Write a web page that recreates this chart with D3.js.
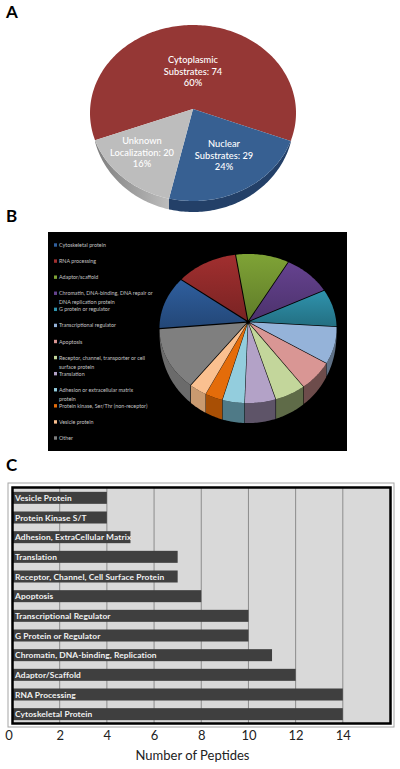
<!DOCTYPE html>
<html>
<head>
<meta charset="utf-8">
<script src="https://cdn.jsdelivr.net/npm/d3@7"></script>
<style>
  html, body { margin: 0; padding: 0; background: #fff; }
  svg { display: block; }
  text { font-family: Lato, "Open Sans", sans-serif; }
</style>
</head>
<body>
<svg id="chart" width="400" height="769"></svg>
<script>
// panel A
const locNames = ['Cytoplasmic', 'Nuclear', 'Unknown'];
const locValues = [74, 29, 20];
const locLabels = [
  ['Cytoplasmic', 'Substrates: 74', '60%'],
  ['Nuclear', 'Substrates: 29', '24%'],
  ['Unknown', 'Localization: 20', '16%']
];
const locTop = ['#953735', '#376092', '#bdbdbd'];
const locSide = ['#6e2826', '#234068', '#8f8f8f'];

// panel B
const classNames = [
  'Cytoskeletal protein', 'RNA processing', 'Adaptor/scaffold',
  'Chromatin, DNA-binding, DNA repair or|DNA replication protein',
  'G protein or regulator', 'Transcriptional regulator', 'Apoptosis',
  'Receptor, channel, transporter or cell|surface protein', 'Translation',
  'Adhesion or extracellular matrix|protein', 'Protein kinase, Ser/Thr (non-receptor)',
  'Vesicle protein', 'Other'
];
const classValues = [14, 14, 12, 11, 10, 10, 8, 7, 7, 5, 4, 4, 17];
const classTop = ['#2f5f9e', '#a12f2f', '#7fa336', '#65428f', '#2f93ad', '#95b3d9', '#d99694',
  '#c3d69b', '#b3a2c7', '#93cddd', '#e46c0a', '#fac090', '#7f7f7f'];
const classSide = ['#1d3f6b', '#6e2020', '#55701f', '#43305f', '#1c6478', '#5f7186', '#6d4c4b',
  '#5f6b48', '#5e5468', '#4f7a87', '#a84f05', '#c99a70', '#6b6b6b'];

// panel C
const barNames = ['Vesicle Protein', 'Protein Kinase S/T', 'Adhesion, ExtraCellular Matrix', 'Translation',
  'Receptor, Channel, Cell Surface Protein', 'Apoptosis', 'Transcriptional Regulator', 'G Protein or Regulator',
  'Chromatin, DNA-binding, Replication', 'Adaptor/Scaffold', 'RNA Processing', 'Cytoskeletal Protein'];
const barValues = [4, 4, 5, 7, 7, 8, 10, 10, 11, 12, 14, 14];
const xTicks = [0, 2, 4, 6, 8, 10, 12, 14];

const svg = d3.select('#chart');
const defs = svg.append('defs');
const deg = d => d * Math.PI / 180;

function ringPoint(g, a, shift) {
  return [g.cx + shift[0] + g.rx * Math.sin(a), g.cy + shift[1] - g.ry * Math.cos(a)];
}

// top face, the pivot sits above the centre of the ellipse (perspective)
function faceLine(g, d, shift) {
  const steps = d3.range(d.startAngle, d.endAngle, 0.02).concat(d.endAngle);
  const pts = steps.map(a => ringPoint(g, a, shift));
  pts.unshift([g.px + shift[0], g.py + shift[1]]);
  return d3.line()(pts) + 'Z';
}

// outer wall, only on the front half, thins out toward the sides
function wallLine(g, d, shift) {
  const a0 = Math.max(d.startAngle, Math.PI / 2);
  const a1 = Math.min(d.endAngle, Math.PI * 1.5);
  if (a1 <= a0) return null;
  const steps = d3.range(a0, a1, 0.02).concat(a1);
  const drop = a => g.depth * Math.sqrt(Math.max(0, (-Math.cos(a) - g.taper) / (1 - g.taper)));
  const upper = steps.map(a => ringPoint(g, a, shift));
  const lower = steps.slice().reverse().map(a => {
    const p = ringPoint(g, a, shift);
    return [p[0], p[1] + drop(a)];
  });
  return d3.line()(upper.concat(lower)) + 'Z';
}

function shadeGradient(id, c0, c1, horizontal) {
  const lg = defs.append('linearGradient').attr('id', id)
    .attr('x1', 0).attr('y1', 0).attr('x2', horizontal ? 1 : 0).attr('y2', horizontal ? 0 : 1);
  lg.append('stop').attr('offset', '0%').attr('stop-color', c0);
  lg.append('stop').attr('offset', '100%').attr('stop-color', c1);
  return `url(#${id})`;
}

// --- A ---
const geoA = { cx: 193, cy: 113, rx: 103, ry: 88, px: 193, py: 109, depth: 11, taper: 0.3 };
const pieA = d3.pie().sort(null).startAngle(deg(-108)).endAngle(deg(252))(locValues);
const gA = svg.append('g');
gA.selectAll('path.wall').data(pieA).join('path').attr('class', 'wall')
  .attr('d', d => wallLine(geoA, d, [0, 0]))
  .attr('fill', (d, i) => i === 2 ? shadeGradient('sideGray', '#7e7e7e', '#bdbdbd', true) : locSide[i]);
gA.selectAll('path.face').data(pieA).join('path').attr('class', 'face')
  .attr('d', d => faceLine(geoA, d, [0, 0]))
  .attr('fill', (d, i) => locTop[i]);

const labelCentres = [[193, 63], [224, 147], [142, 144]];
locLabels.forEach((lines, i) => {
  const t = gA.append('text').attr('text-anchor', 'middle').attr('fill', '#fff')
    .attr('font-size', 9.3).attr('font-weight', 500);
  lines.forEach((s, k) => {
    t.append('tspan').attr('x', labelCentres[i][0]).attr('y', labelCentres[i][1] + k * 11.7).text(s);
  });
});

// --- B ---
svg.append('rect').attr('x', 48).attr('y', 232).attr('width', 299).attr('height', 219).attr('fill', '#000');

const geoB = { cx: 248, cy: 328.5, rx: 87, ry: 73, px: 248, py: 322, depth: 20, taper: 0 };
const pieB = d3.pie().sort(null).startAngle(deg(-90)).endAngle(deg(270))(classValues);
const explode = d => {
  const mid = (d.startAngle + d.endAngle) / 2;
  return [1.6 * Math.sin(mid), -1.6 * Math.cos(mid)];
};
const gB = svg.append('g');
gB.selectAll('path.wall').data(pieB).join('path').attr('class', 'wall')
  .attr('d', d => wallLine(geoB, d, explode(d)))
  .attr('fill', (d, i) => classSide[i]);
gB.selectAll('path.face').data(pieB).join('path').attr('class', 'face')
  .attr('d', d => faceLine(geoB, d, explode(d)))
  .attr('fill', (d, i) => i < 5
    ? shadeGradient('top' + i, classTop[i], d3.color(classTop[i]).darker(0.8))
    : classTop[i]);

// legend rows are evenly stepped, wrapped lines hang into the next gap
const legendY = d3.scalePoint().domain(classNames).range([245, 438]);
const legend = svg.append('g').selectAll('g').data(classNames).join('g')
  .attr('transform', d => `translate(54,${legendY(d)})`);
legend.append('rect').attr('x', 0).attr('y', -1.7).attr('width', 3).attr('height', 3.4)
  .attr('fill', (d, i) => classTop[i]);
legend.selectAll('text').data(d => d.split('|')).join('text')
  .attr('x', 5)
  .attr('y', (d, i) => i * 9 + 2)
  .attr('font-size', 5.35)
  .attr('fill', '#c4c4c4')
  .text(d => d);

// --- C ---
const x = d3.scaleLinear().domain([0, 16]).range([12.5, 390]);
const y = d3.scaleBand().domain(barNames).range([488, 724]).paddingInner(0.39).paddingOuter(0.195);

svg.append('rect').attr('x', 8).attr('y', 483).attr('width', 386).attr('height', 244)
  .attr('fill', '#fff').attr('stroke', '#a6a6a6');
svg.append('rect').attr('x', 12.5).attr('y', 487.5).attr('width', 378).attr('height', 236)
  .attr('fill', '#d9d9d9');

svg.append('g').selectAll('line').data(xTicks.slice(1)).join('line')
  .attr('x1', d => x(d)).attr('x2', d => x(d)).attr('y1', 488).attr('y2', 724)
  .attr('stroke', '#8c8c8c').attr('stroke-width', 1);

svg.append('g').selectAll('rect').data(barNames).join('rect')
  .attr('x', x(0)).attr('y', d => y(d))
  .attr('width', (d, i) => x(barValues[i]) - x(0))
  .attr('height', y.bandwidth())
  .attr('fill', '#3f3f3f');

svg.append('g').selectAll('text').data(barNames).join('text')
  .attr('x', 15).attr('y', d => y(d) + y.bandwidth() / 2 + 3)
  .attr('font-size', 8.4).attr('font-weight', 700).attr('letter-spacing', 0.1)
  .attr('fill', '#f2f2f2')
  .text(d => d);

svg.append('rect').attr('x', 12.5).attr('y', 487.5).attr('width', 378).attr('height', 236)
  .attr('fill', 'none').attr('stroke', '#000').attr('stroke-width', 2.5);

const xAxis = svg.append('g').attr('transform', 'translate(0,724)')
  .call(d3.axisBottom(x).tickValues(xTicks).tickSize(0).tickPadding(7));
xAxis.select('.domain').remove();
xAxis.selectAll('text')
  .attr('font-size', 13).attr('fill', '#222').attr('font-family', 'Lato, sans-serif')
  .attr('dx', d => d === 0 ? -4 : 0);

svg.append('text').attr('x', 192.5).attr('y', 760).attr('text-anchor', 'middle')
  .attr('font-size', 13).attr('fill', '#222').text('Number of Peptides');

// panel letters
[['A', 6, 18], ['B', 6, 222], ['C', 6, 471]].forEach(p => {
  svg.append('text').attr('x', p[1]).attr('y', p[2])
    .attr('font-size', 17).attr('font-weight', 700).attr('fill', '#000').text(p[0]);
});
</script>
</body>
</html>
